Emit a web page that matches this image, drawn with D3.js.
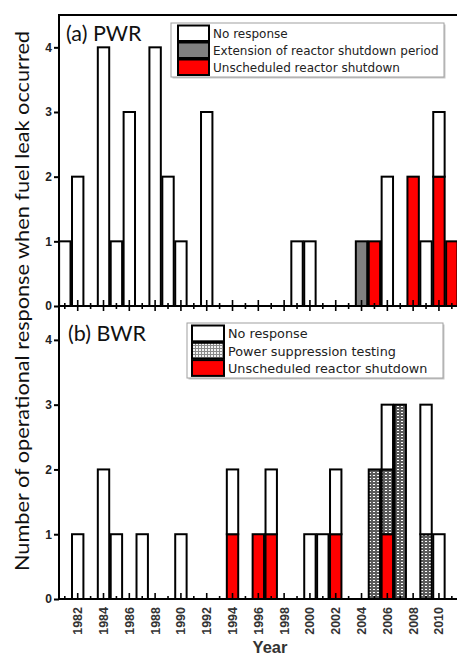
<!DOCTYPE html>
<html><head><meta charset="utf-8">
<script src="https://cdn.jsdelivr.net/npm/d3@7"></script>
<style>body{margin:0;background:#fff}svg{display:block}</style>
</head><body>
<svg id="c" width="457" height="657"></svg>
<script>
// ---- data (years 1981..2011) ----
const years = d3.range(1981, 2012);
const yearTicks = d3.range(1982, 2011, 2);
const yTicks = [0, 1, 2, 3, 4];
const pwrNoResponse   = [1,2,0,4,1,3,0,4,2,1,0,3,0,0,0,0,0,0,1,1,0,0,0,0,0,2,0,0,1,1,0];
const pwrExtension    = [0,0,0,0,0,0,0,0,0,0,0,0,0,0,0,0,0,0,0,0,0,0,0,1,0,0,0,0,0,0,0];
const pwrUnscheduled  = [0,0,0,0,0,0,0,0,0,0,0,0,0,0,0,0,0,0,0,0,0,0,0,0,1,0,0,2,0,2,1];
const bwrNoResponse   = [0,1,0,2,1,0,1,0,0,1,0,0,0,1,0,0,1,0,0,1,1,1,0,0,0,1,0,0,2,1,0];
const bwrPowerSupp    = [0,0,0,0,0,0,0,0,0,0,0,0,0,0,0,0,0,0,0,0,0,0,0,0,2,1,3,0,1,0,0];
const bwrUnscheduled  = [0,0,0,0,0,0,0,0,0,0,0,0,0,1,0,1,1,0,0,0,0,1,0,0,0,1,0,0,0,0,0];
const pwrLegend = ["No response", "Extension of reactor shutdown period", "Unscheduled reactor shutdown"];
const bwrLegend = ["No response", "Power suppression testing", "Unscheduled reactor shutdown"];
const yTitle = "Number of operational response when fuel leak occurred";

const svg = d3.select("#c");
const defs = svg.append("defs");
const pb = defs.append("pattern").attr("id","ps").attr("width",4).attr("height",3).attr("patternUnits","userSpaceOnUse");
pb.append("rect").attr("width",4).attr("height",3).attr("fill","#5c5c5c");
pb.append("rect").attr("x",1).attr("y",1).attr("width",2).attr("height",1).attr("fill","#fff");
const pl = defs.append("pattern").attr("id","psl").attr("width",3).attr("height",3).attr("patternUnits","userSpaceOnUse");
pl.append("rect").attr("width",3).attr("height",3).attr("fill","#f2f2f2");
pl.append("rect").attr("width",3).attr("height",1).attr("fill","#8a8a8a");
pl.append("rect").attr("width",1).attr("height",3).attr("fill","#8a8a8a");

const x = d3.scaleLinear().domain([1980.55, 2011.4]).range([59, 457]);
const barW = 11.4;
const leftX = 59, rightX = 457;

function panel(opts) {
  const y = d3.scaleLinear().domain([0, 4.5]).range([opts.bottom, opts.top]);
  const rows = years.map((yr, i) => ({year: yr, red: opts.red[i], mid: opts.mid[i], white: opts.white[i]}));
  const keys = ["red", "mid", "white"];
  const fills = {red: "#ff0000", mid: opts.midFill, white: "#ffffff"};
  const stack = d3.stack().keys(keys)(rows);
  const g = svg.append("g");
  stack.forEach(layer => {
    g.selectAll(null).data(layer.filter(d => d[1] - d[0] > 0)).join("rect")
      .attr("x", d => x(d.data.year) - barW / 2)
      .attr("y", d => y(d[1]))
      .attr("width", barW)
      .attr("height", d => y(d[0]) - y(d[1]))
      .attr("fill", fills[layer.key])
      .attr("stroke", "#000").attr("stroke-width", 2);
  });
  // y axis
  const ya = svg.append("g").attr("transform", `translate(${leftX},0)`)
    .call(d3.axisLeft(y).tickValues(yTicks).tickSize(5).tickPadding(2).tickFormat(d3.format("d")));
  ya.select(".domain").remove();
  ya.selectAll(".tick line").attr("stroke", "#000").attr("stroke-width", 2);
  ya.selectAll(".tick text").attr("font-family", "Liberation Sans, Arial, sans-serif")
    .attr("font-weight", "bold").attr("font-size", 12).attr("fill", "#222");
  // x ticks
  const xt = svg.append("g");
  years.forEach(yr => {
    const major = yr % 2 === 0;
    const up = major ? 6 : 3;
    const down = opts.cross ? (major ? 5 : 3) : 0;
    xt.append("line").attr("x1", x(yr)).attr("x2", x(yr))
      .attr("y1", opts.bottom - up).attr("y2", opts.bottom + down)
      .attr("stroke", "#000").attr("stroke-width", 1.6);
  });
  svg.append("line").attr("x1", leftX).attr("x2", rightX).attr("y1", opts.bottom).attr("y2", opts.bottom)
    .attr("stroke", "#000").attr("stroke-width", 2);
  // panel title
  svg.append("text").attr("x", opts.titleX).attr("y", opts.titleY).text(opts.title)
    .attr("font-family", "Lato, 'Open Sans', sans-serif").attr("font-size", 21.5).attr("fill", "#111");
  // legend
  const L = opts.legend;
  svg.append("rect").attr("x", L.x + 1.5).attr("y", L.y + 1.5).attr("width", L.w).attr("height", L.h)
    .attr("fill", "#c8c8c8");
  svg.append("rect").attr("x", L.x).attr("y", L.y).attr("width", L.w).attr("height", L.h)
    .attr("fill", "#fff").attr("stroke", "#a0a0a0").attr("stroke-width", 1);
  const legFills = ["#ffffff", opts.legMid, "#ff0000"];
  L.labels.forEach((t, i) => {
    svg.append("rect").attr("x", L.sx).attr("y", L.y + 2.5 + i * L.rh).attr("width", L.sw).attr("height", L.rh - 1.5)
      .attr("fill", legFills[i]).attr("stroke", "#000").attr("stroke-width", 2);
    svg.append("text").attr("x", L.tx).attr("y", L.y + 2 + i * L.rh + L.rh * 0.78).text(t)
      .attr("font-family", "'DejaVu Sans', sans-serif").attr("font-size", L.fs).attr("fill", "#222");
  });
}

panel({top: 15, bottom: 306, red: pwrUnscheduled, mid: pwrExtension, white: pwrNoResponse,
  midFill: "#808080", legMid: "#808080", cross: true, title: "(a) PWR", titleX: 66, titleY: 41,
  legend: {x: 171, y: 23, w: 273, h: 54, sx: 178, sw: 31, rh: 17, tx: 213, fs: 12, labels: pwrLegend}});
panel({top: 307.5, bottom: 599, red: bwrUnscheduled, mid: bwrPowerSupp, white: bwrNoResponse,
  midFill: "url(#ps)", legMid: "url(#psl)", cross: false, title: "(b) BWR", titleX: 68, titleY: 341,
  legend: {x: 187, y: 323, w: 256, h: 55, sx: 192, sw: 32, rh: 17.3, tx: 228, fs: 12.8, labels: bwrLegend}});

// frame: left axis + top border
svg.append("line").attr("x1", leftX).attr("x2", leftX).attr("y1", 14).attr("y2", 600).attr("stroke", "#000").attr("stroke-width", 2);
svg.append("line").attr("x1", leftX).attr("x2", rightX).attr("y1", 15).attr("y2", 15).attr("stroke", "#000").attr("stroke-width", 2);

// x tick labels
svg.append("g").selectAll("text").data(yearTicks).join("text")
  .attr("transform", d => `translate(${x(d) + 4.5},607) rotate(-90)`)
  .attr("text-anchor", "end")
  .attr("font-family", "Liberation Sans, Arial, sans-serif").attr("font-weight", "bold").attr("font-size", 12.5)
  .attr("fill", "#333").text(d => d);

svg.append("text").attr("x", 270).attr("y", 653).attr("text-anchor", "middle").text("Year")
  .attr("font-family", "Liberation Sans, Arial, sans-serif").attr("font-weight", "bold").attr("font-size", 16.5).attr("fill", "#333");

svg.append("text").attr("transform", "translate(29,301) rotate(-90)").attr("text-anchor", "middle")
  .attr("font-family", "Lato, sans-serif").attr("font-size", 20).attr("fill", "#111")
  .attr("textLength", 540).attr("lengthAdjust", "spacingAndGlyphs").text(yTitle);
</script>
</body></html>
